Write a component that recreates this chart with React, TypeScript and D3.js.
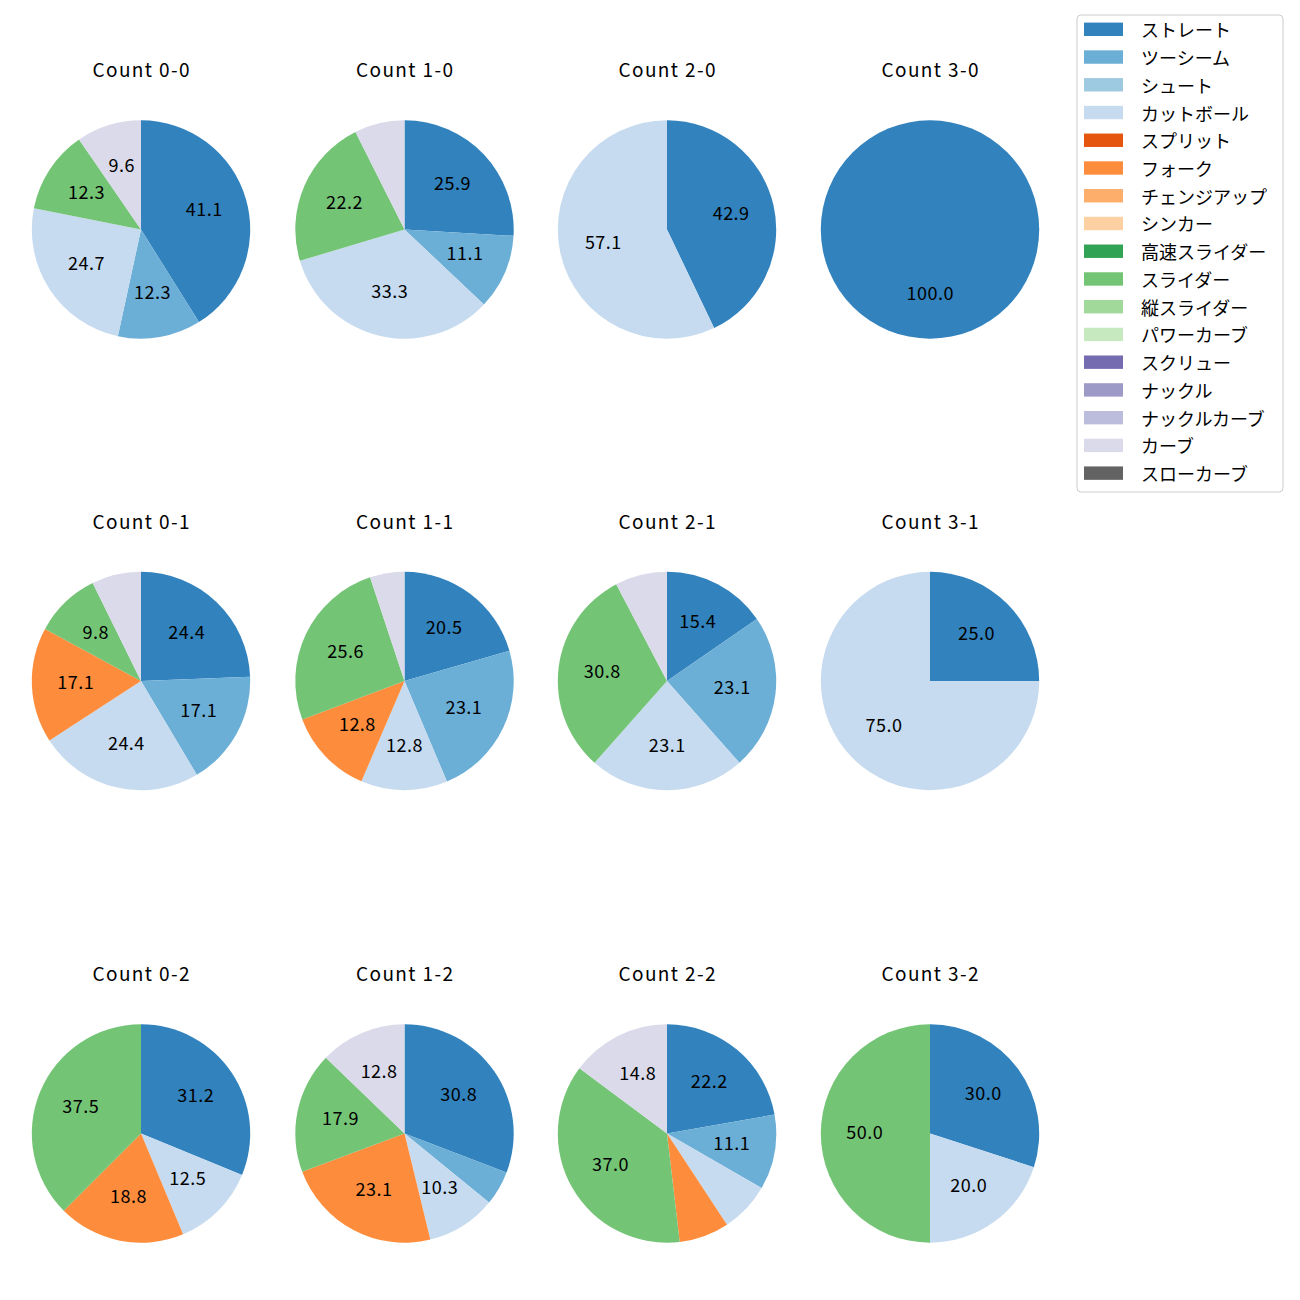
import React from "react";
import * as d3 from "d3";

const pitchTypes = [
  "ストレート", "ツーシーム", "シュート", "カットボール", "スプリット", "フォーク",
  "チェンジアップ", "シンカー", "高速スライダー", "スライダー", "縦スライダー",
  "パワーカーブ", "スクリュー", "ナックル", "ナックルカーブ", "カーブ", "スローカーブ",
];
const pitchColors = [
  "#3182bd", "#6baed6", "#9ecae1", "#c6dbef", "#e6550d", "#fd8d3c",
  "#fdae6b", "#fdd0a2", "#31a354", "#74c476", "#a1d99b", "#c7e9c0",
  "#756bb1", "#9e9ac8", "#bcbddc", "#dadaeb", "#636363",
];

// counts (balls-strikes) in grid order, row by row
const countLabels = [
  "0-0", "1-0", "2-0", "3-0",
  "0-1", "1-1", "2-1", "3-1",
  "0-2", "1-2", "2-2", "3-2",
];

// percentage per pitch type (index into pitchTypes) for each count
const share00 = [41.1, 12.3, 0, 24.7, 0, 0, 0, 0, 0, 12.3, 0, 0, 0, 0, 0, 9.6, 0];
const share10 = [25.9, 11.1, 0, 33.3, 0, 0, 0, 0, 0, 22.2, 0, 0, 0, 0, 0, 7.4, 0];
const share20 = [42.9, 0, 0, 57.1, 0, 0, 0, 0, 0, 0, 0, 0, 0, 0, 0, 0, 0];
const share30 = [100.0, 0, 0, 0, 0, 0, 0, 0, 0, 0, 0, 0, 0, 0, 0, 0, 0];
const share01 = [24.4, 17.1, 0, 24.4, 0, 17.1, 0, 0, 0, 9.8, 0, 0, 0, 0, 0, 7.3, 0];
const share11 = [20.5, 23.1, 0, 12.8, 0, 12.8, 0, 0, 0, 25.6, 0, 0, 0, 0, 0, 5.1, 0];
const share21 = [15.4, 23.1, 0, 23.1, 0, 0, 0, 0, 0, 30.8, 0, 0, 0, 0, 0, 7.7, 0];
const share31 = [25.0, 0, 0, 75.0, 0, 0, 0, 0, 0, 0, 0, 0, 0, 0, 0, 0, 0];
const share02 = [31.2, 0, 0, 12.5, 0, 18.8, 0, 0, 0, 37.5, 0, 0, 0, 0, 0, 0, 0];
const share12 = [30.8, 5.1, 0, 10.3, 0, 23.1, 0, 0, 0, 17.9, 0, 0, 0, 0, 0, 12.8, 0];
const share22 = [22.2, 11.1, 0, 7.4, 0, 7.4, 0, 0, 0, 37.0, 0, 0, 0, 0, 0, 14.8, 0];
const share32 = [30.0, 0, 0, 20.0, 0, 0, 0, 0, 0, 50.0, 0, 0, 0, 0, 0, 0, 0];

const allShares = [
  share00, share10, share20, share30,
  share01, share11, share21, share31,
  share02, share12, share22, share32,
];

const FONT = "'Noto Sans CJK JP', 'Noto Sans', sans-serif";
const W = 1300;
const H = 1300;
const colCenters = [141, 404.5, 667, 930];
const rowCenters = [229.5, 681, 1133.5];
const titleOffset = -161;
const R = 109.2;
const LABEL_MIN = 8;

export default function App() {
  const pie = d3
    .pie<number>()
    .sort(null)
    .value((d) => d)
    .startAngle(0)
    .endAngle(2 * Math.PI);
  const arc = d3.arc<d3.PieArcDatum<number>>().innerRadius(0).outerRadius(R);
  const labelArc = d3
    .arc<d3.PieArcDatum<number>>()
    .innerRadius(R * 0.6)
    .outerRadius(R * 0.6);

  const legendX = 1077;
  const legendY = 15;
  const rowH = 27.74;

  return (
    <svg
      width={W}
      height={H}
      viewBox={`0 0 ${W} ${H}`}
      style={{ position: "absolute", left: 0, top: 0, background: "#fff" }}
      fontFamily={FONT}
    >
      <rect x={0} y={0} width={W} height={H} fill="#fff" />
      {allShares.map((shares, i) => {
        const cx = colCenters[i % 4];
        const cy = rowCenters[Math.floor(i / 4)];
        const arcs = pie(shares);
        const total = d3.sum(shares);
        return (
          <g key={i} transform={`translate(${cx},${cy})`}>
            <text
              x={0.7}
              y={titleOffset}
              textAnchor="middle"
              dominantBaseline="central"
              fontSize={19}
              letterSpacing={1.4}
              fill="#000"
            >
              {`Count ${countLabels[i]}`}
            </text>
            {arcs.map((a, j) =>
              a.value > 0 ? (
                <path key={j} d={arc(a) || ""} fill={pitchColors[j]} />
              ) : null
            )}
            {arcs.map((a, j) => {
              const pct = (a.value / total) * 100;
              if (a.value <= 0 || pct < LABEL_MIN) return null;
              const [lx, ly] = labelArc.centroid(a);
              return (
                <text
                  key={`l${j}`}
                  x={lx + 0.25}
                  y={ly - 3}
                  textAnchor="middle"
                  dominantBaseline="central"
                  fontSize={18}
                  letterSpacing={0.5}
                  fill="#000"
                >
                  {pct.toFixed(1)}
                </text>
              );
            })}
          </g>
        );
      })}
      <rect
        x={legendX}
        y={legendY}
        width={206}
        height={477}
        rx={4}
        fill="#fff"
        stroke="#cccccc"
        strokeWidth={1}
      />
      {pitchTypes.map((name, k) => {
        const yc = legendY + 14.3 + k * rowH;
        return (
          <g key={k}>
            <rect x={1084} y={yc - 6.7} width={39} height={13.4} fill={pitchColors[k]} />
            <text x={1141} y={yc} dominantBaseline="central" fontSize={18} fill="#000">
              {name}
            </text>
          </g>
        );
      })}
    </svg>
  );
}
